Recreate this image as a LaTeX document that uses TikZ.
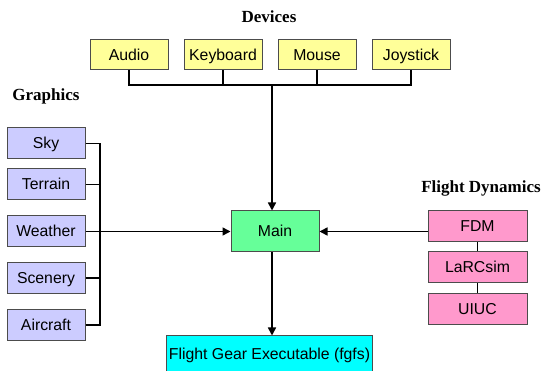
\documentclass[tikz,border=0pt]{standalone}
\usepackage{fontspec}
\setmainfont{Liberation Sans}
\newfontfamily\titlefont{Liberation Serif}
\usetikzlibrary{arrows.meta}
\definecolor{devyellow}{RGB}{255,255,153}
\definecolor{gfxblue}{RGB}{204,204,255}
\definecolor{maingreen}{RGB}{102,255,153}
\definecolor{fdmpink}{RGB}{255,153,204}
\definecolor{execyan}{RGB}{0,255,255}
\newcommand{\boxfont}{\fontsize{15.8}{18}\selectfont}
\newcommand{\headfont}{\titlefont\bfseries\fontsize{17}{20}\selectfont}
\tikzstyle{box} = [rectangle, inner xsep = 2pt, text height = 14pt, text depth = 3pt, text centered, draw = black!70, line width = 1pt, font = \boxfont]
\tikzstyle{dev} = [box, minimum width = 78pt, minimum height = 30pt, fill = devyellow]
\tikzstyle{gfx} = [box, minimum width = 78pt, minimum height = 31pt, fill = gfxblue]
\tikzstyle{fdmbox} = [box, minimum width = 99pt, minimum height = 31pt, fill = fdmpink]
\tikzstyle{head} = [font = \headfont]
\tikzstyle{link} = [line width = 1.6pt]
\tikzstyle{flow} = [line width = 1.6pt, -{Triangle[length = 8pt, width = 8pt]}]

\begin{document}
\begin{tikzpicture}[node distance = 94pt]
	\useasboundingbox (0,0) rectangle (541pt,-371pt);
	\clip (0,0) rectangle (541pt,-371pt);

	\node (devtitle)[head] at (269pt,-17pt) {Devices};
	\node (audio)[dev] at (129pt,-55pt) {Audio};
	\node (keyboard)[dev, right of = audio]{Keyboard};
	\node (mouse)[dev, right of = keyboard]{Mouse};
	\node (joystick)[dev, right of = mouse]{Joystick};

	\node (gfxtitle)[head] at (46pt,-96pt) {Graphics};
	\node (sky)[gfx] at (46pt,-143.5pt) {Sky};
	\node (terrain)[gfx, below of = sky, node distance = 41pt]{Terrain};
	\node (weather)[gfx, below of = terrain, node distance = 47pt]{Weather};
	\node (scenery)[gfx, below of = weather, node distance = 46.5pt]{Scenery};
	\node (aircraft)[gfx, below of = scenery, node distance = 47pt]{Aircraft};

	\node (main)[box, minimum width = 88pt, minimum height = 41pt, fill = maingreen] at (275pt,-231.5pt) {Main};
	\node (fgfs)[box, minimum width = 203pt, minimum height = 36pt, fill = execyan] at (269.5pt,-354pt) {Flight Gear Executable (fgfs)};

	\node (fdmtitle)[head] at (481pt,-188pt) {Flight Dynamics};
	\node (fdm)[fdmbox] at (477.5pt,-226.5pt) {FDM};
	\node (larcsim)[fdmbox, below of = fdm, node distance = 41pt]{LaRCsim};
	\node (uiuc)[fdmbox, below of = larcsim, node distance = 42pt]{UIUC};

	\coordinate (dbus) at (272pt,-85pt);
	\coordinate (gbus) at (100pt,-231.5pt);

	% devices
	\draw [link] (audio.south) |- (dbus);
	\draw [link] (joystick.south) |- (dbus);
	\draw [link] (keyboard.south) -- (keyboard.south |- dbus);
	\draw [link] (mouse.south) -- (mouse.south |- dbus);
	\draw [flow] (dbus) -- (dbus |- main.north);

	% graphics
	\draw [link] (sky.east) -| (gbus);
	\draw [link] (aircraft.east) -| (gbus);
	\draw [link] (terrain.east) -- (terrain.east -| gbus);
	\draw [link] (scenery.east) -- (scenery.east -| gbus);
	\draw [flow] (weather.east) -- (main.west);

	% flight dynamics
	\draw [flow] (fdm.west |- main.east) -- (main.east);
	\draw [link] (fdm.south) -- (larcsim.north);
	\draw [link] (larcsim.south) -- (uiuc.north);

	\draw [flow] (dbus |- main.south) -- (dbus |- fgfs.north);
\end{tikzpicture}
\end{document}
